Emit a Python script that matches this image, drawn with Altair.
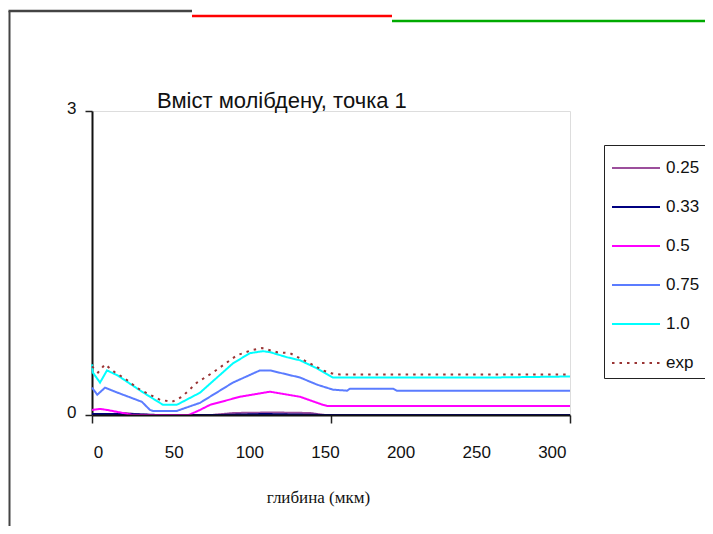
import altair as alt
import pandas as pd

chart_title = "Вміст молібдену, точка 1"
x_title = "глибина (мкм)"

series_names = ["0.25", "0.33", "0.5", "0.75", "1.0", "exp"]
series_colors = ["#9c4f9c", "#000080", "#ff00ff", "#5b7cff", "#00ffff", "#993333"]

x_025 = [-4, 10, 18, 24, 35, 75, 90, 115, 140, 150, 312]
y_025 = [0.0, 0.01, 0.02, 0.01, 0.0, 0.0, 0.02, 0.025, 0.02, 0.0, 0.0]

x_033 = [-4, 20, 40, 80, 110, 150, 312]
y_033 = [0.01, 0.01, 0.0, 0.0, 0.01, 0.0, 0.0]

x_050 = [-4, 1.3, 5.9, 13, 23, 60, 67.4, 74, 93.8, 113.7, 133.5, 148.7, 151.4, 312]
y_050 = [0.05, 0.06, 0.05, 0.03, 0.0, 0.0, 0.05, 0.10, 0.18, 0.23, 0.18, 0.10, 0.09, 0.09]

x_075 = [-4, -0.5, 4.6, 13, 29, 34.3, 36.3, 52, 67.4, 89.2, 107, 113.7, 133.5,
         144.7, 155.3, 164.6, 166.6, 195, 197.6, 312]
y_075 = [0.27, 0.20, 0.27, 0.22, 0.13, 0.05, 0.04, 0.04, 0.12, 0.32, 0.44, 0.44, 0.37,
         0.30, 0.25, 0.24, 0.26, 0.26, 0.24, 0.24]

x_100 = [-4, -3.5, 1.3, 5.9, 13, 29, 43, 52, 67.4, 89.2, 100.4, 109, 113.7, 124.9,
         133.5, 144.7, 155.3, 200, 260, 312]
y_100 = [0.50, 0.42, 0.32, 0.44, 0.39, 0.23, 0.10, 0.10, 0.22, 0.51, 0.61, 0.63, 0.62, 0.57,
         0.54, 0.46, 0.37, 0.37, 0.37, 0.38]

x_exp = [-4, 0, 4.6, 11.2, 17.8, 23, 27.7, 41, 48.9, 55.5, 65.4, 76, 91.9, 101.7,
         108.4, 118.3, 126.9, 140.1, 148.7, 154.6, 160, 312]
y_exp = [0.48, 0.42, 0.50, 0.42, 0.36, 0.30, 0.25, 0.15, 0.13, 0.18, 0.32, 0.42, 0.59, 0.64,
         0.66, 0.62, 0.61, 0.51, 0.44, 0.41, 0.40, 0.40]

x_tick_labels = [0, 50, 100, 150, 200, 250, 300]
x_tick_marks = [-4, 154, 312]
y_ticks = [0, 3]

rows = []
for name, xs, ys in [("0.25", x_025, y_025), ("0.33", x_033, y_033), ("0.5", x_050, y_050),
                     ("0.75", x_075, y_075), ("1.0", x_100, y_100), ("exp", x_exp, y_exp)]:
    for i, (xv, yv) in enumerate(zip(xs, ys)):
        rows.append({"series": name, "x": xv, "y": yv, "i": i})
df = pd.DataFrame(rows)

FONT = "Liberation Sans"
mark_test = " || ".join(f"datum.value == {v}" for v in x_tick_marks)

legend_props = dict(
    orient="none", legendX=512, legendY=34, title=None,
    symbolType="M-1,0H2.2", symbolSize=900, symbolStrokeWidth=2,
    labelFont=FONT, labelFontSize=17, labelColor="#111", labelOffset=23,
    strokeColor="#222", fillColor="white", padding=7, rowPadding=15,
)

lines = alt.Chart(df).mark_line(strokeWidth=2, clip=False).encode(
    x=alt.X("x:Q", scale=alt.Scale(domain=[-4, 312], nice=False, zero=False),
            axis=alt.Axis(
                values=sorted(x_tick_labels + x_tick_marks),
                labelExpr=f"({mark_test}) ? '' : datum.label",
                tickOpacity={"condition": {"test": mark_test, "value": 1}, "value": 0},
                tickSize=8, tickColor="#222", tickWidth=1.5,
                domainColor="#111", domainWidth=2,
                labelFont=FONT, labelFontSize=17, labelColor="#111",
                labelPadding=21, labelOverlap=False, labelFlush=False, labelBound=False,
                grid=False, zindex=1,
                title=x_title, titleFont="Liberation Serif", titleFontSize=17,
                titleFontWeight="normal", titleColor="#111",
                titleX=226, titleY=82, titleBaseline="middle", titleAnchor="middle",
            )),
    y=alt.Y("y:Q", scale=alt.Scale(domain=[0, 3], nice=False, zero=False),
            axis=alt.Axis(values=y_ticks, tickSize=7, tickColor="#222", tickWidth=1.5,
                          domainColor="#111", domainWidth=2,
                          labelFont=FONT, labelFontSize=17, labelColor="#111",
                          labelPadding=9, labelOffset=-3, grid=False, title=None)),
    color=alt.Color("series:N", scale=alt.Scale(domain=series_names, range=series_colors),
                    legend=alt.Legend(**legend_props)),
    strokeDash=alt.StrokeDash("series:N",
                              scale=alt.Scale(domain=series_names,
                                              range=[[1, 0]] * 5 + [[2.5, 5]]),
                              legend=alt.Legend(**legend_props)),
    order="i:Q",
)

# page-frame lines (top at several candidate offsets in distinct segments)
frame_top_a = alt.Chart(alt.Data(values=[{"f": 2}])).mark_rule(
    stroke="#444", strokeWidth=2.5, clip=False
).encode(x=alt.value(-83.5), x2=alt.value(100), y=alt.value(-100))
frame_top_b = alt.Chart(alt.Data(values=[{"f": 4}])).mark_rule(
    stroke="#ff0000", strokeWidth=2.5, clip=False
).encode(x=alt.value(100), x2=alt.value(300), y=alt.value(-95))
frame_top_c = alt.Chart(alt.Data(values=[{"f": 5}])).mark_rule(
    stroke="#00aa00", strokeWidth=2.5, clip=False
).encode(x=alt.value(300), x2=alt.value(613), y=alt.value(-90))

frame_left = alt.Chart(alt.Data(values=[{"f": 3}])).mark_rule(
    stroke="#444", strokeWidth=2, clip=False
).encode(x=alt.value(-82.5), y=alt.value(-100), y2=alt.value(420))

title_text = alt.Chart(alt.Data(values=[{"t": chart_title}])).mark_text(
    align="left", baseline="alphabetic", font=FONT, fontSize=22, color="#111"
).encode(text="t:N", x=alt.value(65), y=alt.value(-3))

chart = alt.layer(frame_top_a, frame_top_b, frame_top_c, frame_left, lines, title_text).properties(
    width=478, height=304,
    padding={"left": 84, "top": 103, "right": 135, "bottom": 111},
    autosize=alt.AutoSizeParams(type="none"),
).configure_view(strokeWidth=0).configure(background="white")

chart.save("out.html", embed_options={"renderer": "svg", "actions": False})
